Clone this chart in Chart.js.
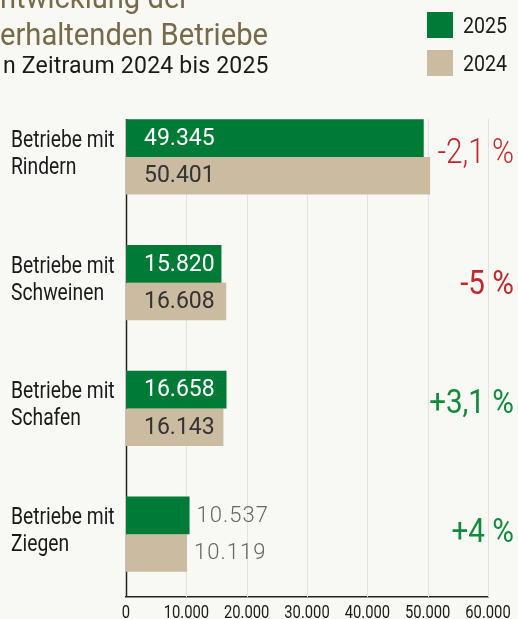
<!DOCTYPE html>
<html><head><meta charset="utf-8">
<script src="https://cdn.jsdelivr.net/npm/chart.js@4"></script>
<style>html,body{margin:0;padding:0;background:#F8F8F4;overflow:hidden}#wrap{width:518px;height:619px;position:relative}</style>
</head><body><div id="wrap"><canvas id="c" width="518" height="619"></canvas></div>
<script>
const categories = [['Betriebe mit','Rindern'],['Betriebe mit','Schweinen'],['Betriebe mit','Schafen'],['Betriebe mit','Ziegen']];
const seriesNames = ['2025','2024'];
const values2025 = [49345, 15820, 16658, 10537];
const values2024 = [50401, 16608, 16143, 10119];
const changeLabels = ['-2,1 %','-5 %','+3,1 %','+4 %'];
const xTickValues = [0,10000,20000,30000,40000,50000,60000];
const titleLines = ['ntwicklung der','erhaltenden Betriebe'];
const subtitleText = 'n Zeitraum 2024 bis 2025';

const GREEN = '#007A37', TAN = '#CBBBA0';
const fmt = v => v.toLocaleString('de-DE');

// draw horizontally condensed text (no condensed fonts are installed)
function condText(ctx, text, x, y, size, sx, opts) {
  opts = opts || {};
  ctx.save();
  ctx.translate(x, y);
  ctx.scale(sx, 1);
  ctx.font = (opts.weight || '400') + ' ' + size + 'px Roboto';
  ctx.fillStyle = opts.color || '#1A1A1A';
  ctx.textAlign = opts.align || 'left';
  ctx.textBaseline = opts.baseline || 'alphabetic';
  if (opts.spacing) ctx.letterSpacing = opts.spacing;
  ctx.fillText(text, 0, 0);
  ctx.restore();
}

const changeOffsets = [-2.5, 2.5, -4, -1];

const deco = {
  id: 'deco',
  beforeDatasetsDraw(chart) {
    const ctx = chart.ctx, x = chart.scales.x, a = chart.chartArea;
    const b0 = chart.getDatasetMeta(0).data[0];
    const top = Math.round(b0.y - b0.height / 2);
    ctx.save();
    ctx.strokeStyle = '#E3E3DD'; ctx.lineWidth = 1;
    xTickValues.forEach(v => {
      if (v === 0) return;
      const px = Math.round(x.getPixelForValue(v)) + 0.5;
      ctx.beginPath(); ctx.moveTo(px, top); ctx.lineTo(px, a.bottom); ctx.stroke();
    });
    ctx.strokeStyle = '#222'; ctx.lineWidth = 1.5;
    const lx = x.getPixelForValue(0) + 0.5;
    ctx.beginPath(); ctx.moveTo(lx, top); ctx.lineTo(lx, a.bottom); ctx.stroke();
    ctx.restore();
  },
  afterDatasetsDraw(chart) {
    const ctx = chart.ctx, y = chart.scales.y, x = chart.scales.x;
    ctx.save();
    // value labels
    [0,1].forEach(di => {
      const meta = chart.getDatasetMeta(di);
      const vals = chart.data.datasets[di].data;
      meta.data.forEach((bar, i) => {
        const w = bar.x - bar.base;
        const txt = fmt(vals[i]);
        ctx.save();
        ctx.textBaseline = 'middle'; ctx.textAlign = 'left';
        if (w > 90) {
          ctx.font = '400 23px Roboto';
          ctx.fillStyle = di === 0 ? '#FFFFFF' : '#333333';
          ctx.fillText(txt, bar.base + 18, bar.y + 1);
        } else {
          ctx.font = '300 22px Roboto';
          ctx.letterSpacing = '1px';
          ctx.fillStyle = '#666666';
          ctx.fillText(txt, bar.x + 7, bar.y + 1);
        }
        ctx.restore();
      });
    });
    // category labels
    chart.data.labels.forEach((lines, i) => {
      const cy = y.getPixelForValue(i);
      condText(ctx, lines[0], 11, cy - 10, 23.5, 0.82);
      condText(ctx, lines[1], 11, cy + 17, 23.5, 0.82);
    });
    // x tick labels
    xTickValues.forEach(v => {
      condText(ctx, fmt(v), x.getPixelForValue(v), 618, 18, 0.82, { align: 'center' });
    });
    // change labels
    changeLabels.forEach((t, i) => {
      const cy = y.getPixelForValue(i) + changeOffsets[i];
      const color = t.startsWith('-') ? '#C1272D' : '#138A3B';
      if (i === 0) {
        condText(ctx, t, 514, cy, 35, 0.85, { weight: '300', color, align: 'right', baseline: 'middle' });
      } else {
        condText(ctx, t, 514, cy, 34, 0.87, { weight: '400', color, align: 'right', baseline: 'middle' });
      }
    });
    // title
    condText(ctx, titleLines[0], 0, 8, 31, 0.94, { color: '#776A48' });
    condText(ctx, titleLines[1], 0, 45, 31, 0.94, { color: '#776A48' });
    ctx.save();
    ctx.fillStyle = '#1A1A1A';
    ctx.font = '23px Roboto';
    ctx.letterSpacing = '0.2px';
    ctx.fillText(subtitleText, 3, 73);
    ctx.restore();
    // legend
    seriesNames.forEach((n, i) => {
      ctx.fillStyle = chart.data.datasets[i].backgroundColor;
      ctx.fillRect(427, 12 + i * 38, 26, 26);
      condText(ctx, n, 463, 33 + i * 38, 22.5, 0.87);
    });
    ctx.restore();
  }
};

new Chart(document.getElementById('c'), {
  type: 'bar',
  data: {
    labels: categories,
    datasets: [
      { label: seriesNames[0], data: values2025, backgroundColor: GREEN, categoryPercentage: 0.6, barPercentage: 1.0, borderWidth: 0 },
      { label: seriesNames[1], data: values2024, backgroundColor: TAN, categoryPercentage: 0.6, barPercentage: 1.0, borderWidth: 0 }
    ]
  },
  options: {
    indexAxis: 'y',
    responsive: false,
    animation: false,
    devicePixelRatio: 1,
    layout: { padding: { top: 94, left: 11, right: 30, bottom: 0 } },
    plugins: { legend: { display: false }, tooltip: { enabled: false }, title: { display: false } },
    scales: {
      x: {
        min: 0, max: 60000,
        afterBuildTicks: s => { s.ticks = xTickValues.map(v => ({ value: v })); },
        ticks: { display: false },
        grid: { display: false, drawTicks: false },
        border: { display: true, color: '#222', width: 1.5 },
        afterFit: s => { s.height = 22; s.paddingLeft = 0; s.paddingRight = 0; }
      },
      y: {
        ticks: { display: false },
        grid: { display: false, drawTicks: false },
        border: { display: false },
        afterFit: s => { s.width = 115; s.paddingTop = 0; s.paddingBottom = 0; }
      }
    }
  },
  plugins: [deco]
});
</script></body></html>
